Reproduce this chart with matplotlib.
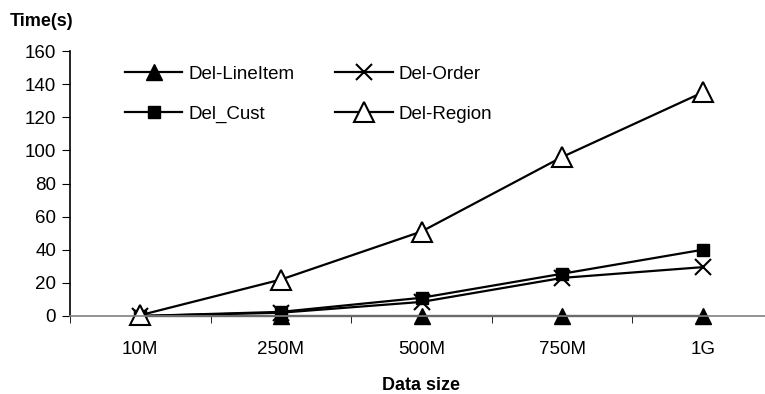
import matplotlib.pyplot as plt

plt.rcParams['font.family'] = ['Liberation Sans', 'DejaVu Sans']

sizes = ['10M', '250M', '500M', '750M', '1G']
del_lineitem = [0, 0, 0, 0, 0]
del_order = [0, 2, 8.5, 23, 29.5]
del_cust = [0, 2.5, 11, 25.5, 40]
del_region = [0.5, 22, 51, 96, 135]

fig = plt.figure(figsize=(7.65, 3.94), dpi=100)
ax = fig.add_axes([70 / 765, 78 / 394, 703 / 765, 265 / 394])

x = list(range(len(sizes)))
l1, = ax.plot(x, del_lineitem, color='black', lw=1.6, marker='^', ms=11,
              mfc='black', mec='black', label='Del-LineItem', clip_on=False)
l3, = ax.plot(x, del_order, color='black', lw=1.6, marker='x', ms=12,
              mew=1.5, label='Del-Order', clip_on=False)
l2, = ax.plot(x, del_cust, color='black', lw=1.6, marker='s', ms=8,
              mfc='black', mec='black', label='Del_Cust', clip_on=False)
l4, = ax.plot(x, del_region, color='black', lw=1.6, marker='^', ms=15,
              mfc='white', mec='black', mew=1.5, label='Del-Region', clip_on=False)

ax.set_xlim(-0.5, 4.5)
ax.set_ylim(0, 160)
ax.set_yticks(range(0, 161, 20))
ax.set_xticks(x)
ax.set_xticklabels(sizes)
ax.set_xticks([i - 0.5 for i in range(len(sizes) + 1)], minor=True)
ax.tick_params(axis='x', which='major', length=0, pad=18, labelsize=13.5)
ax.tick_params(axis='x', which='minor', length=5, direction='out', color='black')
ax.tick_params(axis='y', length=6, direction='out', labelsize=13.5, pad=4)

ax.spines['top'].set_visible(False)
ax.spines['right'].set_visible(False)
ax.spines['bottom'].set_color('#808080')
ax.spines['bottom'].set_linewidth(1.2)
ax.spines['left'].set_linewidth(1.2)

ax.set_xlabel('Data size', fontsize=13, fontweight='bold', labelpad=14)
fig.text(10 / 765, 1 - 22 / 394, 'Time(s)', fontsize=13, fontweight='bold',
         va='center', ha='left')

ax.legend(handles=[l1, l2, l3, l4], ncol=2, frameon=False, fontsize=13.5,
          handlelength=3.05, handletextpad=0.3, columnspacing=2.2,
          labelspacing=1.22, loc='upper left', bbox_to_anchor=(0.068, 0.972),
          borderaxespad=0.0)

fig.savefig('out.png', dpi=100)
